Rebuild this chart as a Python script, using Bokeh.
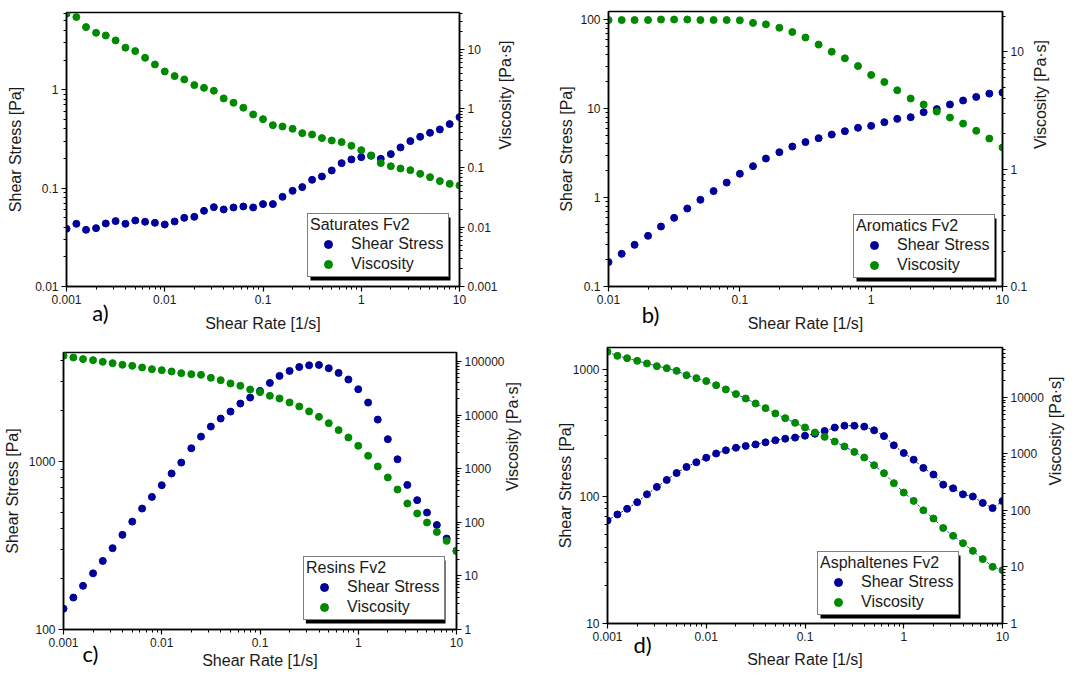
import math

from bokeh.plotting import figure
from bokeh.models import (Range1d, LogScale, LogAxis, FixedTicker, CustomJSTickFormatter,
                          Legend, LegendItem, BoxAnnotation)
from bokeh.layouts import column, row
from bokeh.embed import file_html
from bokeh.resources import INLINE

# Shear rates [1/s], 10 points per decade
rate_4dec = [0.001, 0.00126, 0.00158, 0.002, 0.00251, 0.00316, 0.00398, 0.00501, 0.00631, 0.00794,
             0.01, 0.0126, 0.0158, 0.02, 0.0251, 0.0316, 0.0398, 0.0501, 0.0631, 0.0794,
             0.1, 0.126, 0.158, 0.2, 0.251, 0.316, 0.398, 0.501, 0.631, 0.794,
             1, 1.26, 1.58, 2, 2.51, 3.16, 3.98, 5.01, 6.31, 7.94, 10]
rate_3dec = [0.01, 0.0126, 0.0158, 0.02, 0.0251, 0.0316, 0.0398, 0.0501, 0.0631, 0.0794,
             0.1, 0.126, 0.158, 0.2, 0.251, 0.316, 0.398, 0.501, 0.631, 0.794,
             1, 1.26, 1.58, 2, 2.51, 3.16, 3.98, 5.01, 6.31, 7.94, 10]

# a) Saturates Fv2
sat_stress = [0.0386, 0.0434, 0.0377, 0.0392, 0.0437, 0.0462, 0.0434, 0.0469, 0.0455, 0.0444,
              0.0427, 0.0458, 0.0499, 0.0511, 0.0588, 0.0641, 0.0607, 0.0636, 0.0651, 0.0636,
              0.0688, 0.0688, 0.0816, 0.0939, 0.1024, 0.1215, 0.1314, 0.1512, 0.1795, 0.1956,
              0.2066, 0.2132, 0.1987, 0.2217, 0.2593, 0.3006, 0.3327, 0.3653, 0.3950, 0.4475, 0.5273]
sat_visc = [40.0, 35.2, 23.8, 19.1, 17.2, 14.2, 10.7, 9.37, 7.23, 5.58,
            4.25, 3.55, 3.12, 2.50, 2.25, 2.01, 1.49, 1.26, 1.04, 0.80,
            0.667, 0.528, 0.501, 0.458, 0.387, 0.367, 0.319, 0.291, 0.273, 0.237,
            0.200, 0.163, 0.121, 0.107, 0.098, 0.0919, 0.0797, 0.070, 0.060, 0.054, 0.0507]

# b) Aromatics Fv2
aro_stress = [0.188, 0.233, 0.294, 0.371, 0.472, 0.591, 0.752, 0.942, 1.18, 1.47,
              1.85, 2.25, 2.74, 3.23, 3.74, 4.19, 4.64, 5.10, 5.56, 6.07,
              6.38, 7.02, 7.65, 7.99, 9.10, 9.84, 11.1, 12.3, 13.5, 14.7, 15.1]
aro_visc = [18.6, 18.6, 18.6, 18.6, 18.8, 18.8, 18.8, 18.6, 18.6, 18.6,
            18.5, 17.6, 17.1, 16.0, 14.7, 13.2, 11.5, 10.0, 8.78, 7.55,
            6.34, 5.52, 4.69, 3.99, 3.55, 3.09, 2.75, 2.44, 2.12, 1.82, 1.53]

# c) Resins Fv2
res_stress = [133, 155, 182, 216, 256, 305, 366, 439, 525, 616,
              723, 849, 986, 1200, 1408, 1616, 1803, 1984, 2215, 2404,
              2634, 2939, 3236, 3465, 3658, 3743, 3760, 3594, 3373, 3079,
              2695, 2245, 1778, 1359, 1032, 726, 589, 497, 419, 348, 294]
res_visc = [127600, 118800, 110600, 105900, 98600, 93100, 86700, 83000, 77300, 71900,
            68900, 65100, 60600, 58000, 56400, 49600, 44800, 38900, 35200, 30000,
            26800, 22900, 20400, 17200, 14500, 11700, 9280, 7070, 5240, 3820,
            2670, 1740, 1100, 686, 409, 224, 146, 99, 66, 45, 29]

# d) Asphaltenes Fv2
asp_stress = [64.7, 72.2, 80.0, 90.2, 104, 119, 135, 153, 171, 186,
              202, 218, 231, 242, 250, 257, 267, 277, 285, 291,
              301, 312, 328, 349, 361, 361, 355, 332, 299, 253,
              220, 195, 168, 149, 124, 116, 104, 100, 89, 81, 92]
asp_visc = [64300, 54600, 49600, 44500, 40000, 35900, 33000, 29600, 24800, 22000,
            19500, 16500, 13900, 11500, 9600, 7830, 6480, 5210, 4310, 3560,
            2950, 2400, 2010, 1660, 1360, 1090, 867, 634, 458, 305,
            208, 148, 101, 72, 49, 35.6, 26.4, 19.3, 13.8, 10.1, 8.8]

BLUE = "#00009a"
GREEN = "#008a00"
TEXT = "#1a1a1a"
FONT = "Liberation Sans"
LEG_W, LEG_H = 140, 63   # legend box size in px (fixed by padding/glyph/label widths)

FMT = CustomJSTickFormatter(code="return Number(tick.toPrecision(6)).toString();")


def log_ticker(lo_exp, hi_exp):
    majors = [10.0 ** e for e in range(lo_exp, hi_exp + 1)]
    minors = [m * 10.0 ** e for e in range(lo_exp - 1, hi_exp + 1) for m in range(2, 10)]
    return FixedTicker(ticks=majors, minor_ticks=minors)


def log_pos(rng, frac):
    """Data value at a fraction of a log-scaled range."""
    lo, hi = math.log10(rng[0]), math.log10(rng[1])
    return 10 ** (lo + frac * (hi - lo))


def style_axis(ax, label_standoff=6):
    ax.axis_line_color = "black"
    ax.axis_line_width = 1.5
    ax.major_tick_line_color = "black"
    ax.minor_tick_line_color = "black"
    ax.major_tick_line_width = 1.2
    ax.major_tick_out = 5
    ax.major_tick_in = 0
    ax.minor_tick_out = 3
    ax.minor_tick_in = 0
    ax.major_label_text_font = FONT
    ax.major_label_text_font_size = "12px"
    ax.major_label_text_color = TEXT
    ax.major_label_text_line_height = 1.0
    ax.major_label_standoff = 3
    ax.axis_label_text_font = FONT
    ax.axis_label_text_font_size = "16px"
    ax.axis_label_text_font_style = "normal"
    ax.axis_label_text_color = TEXT
    ax.axis_label_text_line_height = 1.0
    ax.axis_label_standoff = label_standoff
    ax.formatter = FMT


def panel(rate, stress, visc, title, tag, w, h, borders, xr, yl, yr, xt, ylt, yrt,
          legend_xy, tag_x, standoffs, lines=False):
    left, right, top, bottom = borders
    st_left, st_right, st_x, st_tag = standoffs
    fw, fh = w - left - right, h - top - bottom
    p = figure(width=w, height=h, x_axis_type="log", y_axis_type="log",
               x_axis_location=None,
               x_range=Range1d(*xr), y_range=Range1d(*yl),
               output_backend="svg", toolbar_location=None,
               min_border_left=left, min_border_right=right,
               min_border_top=top, min_border_bottom=bottom,
               background_fill_color="white", border_fill_color="white")
    # each panel keeps its own frame position inside the rows
    if "frame_align" in p.properties():
        p.frame_align = False
    p.outline_line_color = "black"
    p.outline_line_width = 1.5
    p.xgrid.visible = False
    p.ygrid.visible = False
    p.extra_y_ranges = {"visc": Range1d(*yr)}
    p.extra_y_scales = {"visc": LogScale()}

    # shear-rate axis
    xax = LogAxis(ticker=log_ticker(*xt), axis_label="Shear Rate [1/s]")
    style_axis(xax, st_x)
    p.add_layout(xax, "below")

    # panel tag, drawn as the only label of a bare axis pulled up under the numbers
    tag_ax = LogAxis(ticker=FixedTicker(ticks=[log_pos(xr, tag_x / fw)], minor_ticks=[]))
    style_axis(tag_ax)
    tag_ax.formatter = CustomJSTickFormatter(code="return %r;" % tag)
    tag_ax.axis_line_color = None
    tag_ax.major_tick_line_color = None
    tag_ax.minor_tick_line_color = None
    tag_ax.major_tick_out = 0
    tag_ax.minor_tick_out = 0
    tag_ax.major_label_text_font = "Lato"
    tag_ax.major_label_text_font_size = "22px"
    tag_ax.major_label_text_color = "black"
    tag_ax.major_label_standoff = st_tag
    p.add_layout(tag_ax, "below")

    p.yaxis.axis_label = "Shear Stress [Pa]"
    p.yaxis.ticker = log_ticker(*ylt)
    style_axis(p.yaxis[0], st_left)

    rax = LogAxis(y_range_name="visc", axis_label="Viscosity [Pa·s]", ticker=log_ticker(*yrt))
    style_axis(rax, st_right)
    if "axis_label_orientation" in rax.properties():
        rax.axis_label_orientation = math.pi / 2
    p.add_layout(rax, "right")

    if lines:
        p.line(rate, stress, line_color="#222222", line_dash="2 2", line_width=1)
        p.line(rate, visc, line_color="#3a3aff", line_dash="3 2", line_width=1, y_range_name="visc")

    p.scatter(rate, stress, size=7, marker="circle", fill_color=BLUE, line_color=BLUE)
    p.scatter(rate, visc, size=7, marker="circle", fill_color=GREEN, line_color=GREEN,
              y_range_name="visc")

    # smaller markers for the legend keys (their single point lies off the frame)
    off_x, off_y = [xr[0] / 100], [yl[0] / 100]
    k_s = p.scatter(off_x, off_y, size=5, marker="circle", fill_color=BLUE, line_color=BLUE)
    k_v = p.scatter(off_x, off_y, size=5, marker="circle", fill_color=GREEN, line_color=GREEN)

    lx, ly = legend_xy
    shadow = BoxAnnotation(left=log_pos(xr, (lx + 3) / fw), right=log_pos(xr, (lx + 3 + LEG_W) / fw),
                           bottom=log_pos(yl, (ly - 3) / fh), top=log_pos(yl, (ly - 3 + LEG_H) / fh),
                           fill_color="black", fill_alpha=1, line_color=None)
    p.add_layout(shadow)

    legend = Legend(items=[LegendItem(label="Shear Stress", renderers=[k_s]),
                           LegendItem(label="Viscosity", renderers=[k_v])],
                    title=title, location=(lx, ly),
                    padding=2, spacing=0, margin=0, label_height=20, glyph_height=20,
                    glyph_width=36, label_standoff=5, label_width=95, title_standoff=0,
                    label_text_font=FONT, label_text_font_size="16px",
                    title_text_font=FONT, title_text_font_size="16px",
                    title_text_font_style="normal", border_line_width=1,
                    background_fill_color="white", background_fill_alpha=1,
                    border_line_color="black", label_text_color=TEXT,
                    title_text_color=TEXT)
    p.add_layout(legend)
    return p


pa = panel(rate_4dec, sat_stress, sat_visc, "Saturates Fv2", "a)", 545, 340, (66, 86, 12, 54),
           (0.001, 10), (0.01, 6.1), (0.001, 42), (-3, 1), (-2, 0), (-3, 1),
           (241, 9), 34, (8, 5, 8, -36))
pb = panel(rate_3dec, aro_stress, aro_visc, "Aromatics Fv2", "b)", 546, 340, (63, 89, 11, 54),
           (0.01, 10), (0.1, 123), (0.1, 22), (-2, 1), (-1, 2), (-1, 1),
           (245, 8), 42, (2, 10, 8, -34))
pc = panel(rate_4dec, res_stress, res_visc, "Resins Fv2", "c)", 545, 337, (62, 89, 12, 48),
           (0.001, 10), (100, 4460), (1, 147000), (-3, 1), (2, 3), (0, 5),
           (240, 9), 27, (5, 5, 2, -32))
pd = panel(rate_4dec, asp_stress, asp_visc, "Asphaltenes Fv2", "d)", 546, 337, (62, 89, 7, 54),
           (0.001, 10), (10, 1490), (1, 76700), (-3, 1), (1, 3), (0, 4),
           (210, 8), 35, (-4, 9, 7, -40), lines=True)

layout = column(row(pa, pb), row(pc, pd))

with open("out.html", "w") as f:
    f.write(file_html(layout, INLINE))
